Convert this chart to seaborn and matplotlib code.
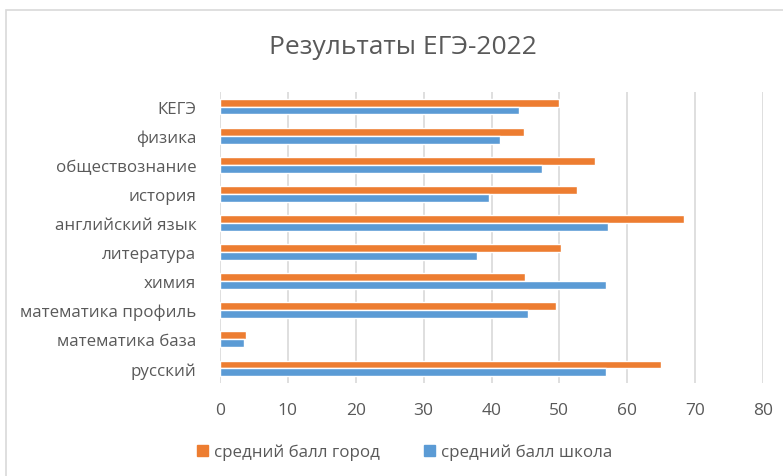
import matplotlib
matplotlib.use("Agg")
import matplotlib.pyplot as plt
import matplotlib.patches as mpatches
import pandas as pd
import seaborn as sns

# data
subjects = ["КЕГЭ", "физика", "обществознание", "история", "английский язык",
            "литература", "химия", "математика профиль", "математика база", "русский"]
city_scores = [50.0, 44.8, 55.2, 52.6, 68.4, 50.3, 45.0, 49.5, 3.9, 65.0]
school_scores = [44.0, 41.2, 47.4, 39.7, 57.2, 37.9, 56.9, 45.4, 3.6, 56.9]
series_names = ["средний балл город", "средний балл школа"]
colors = ["#ED7D31", "#5B9BD5"]

df = pd.concat([
    pd.DataFrame({"предмет": subjects, "балл": city_scores, "серия": series_names[0]}),
    pd.DataFrame({"предмет": subjects, "балл": school_scores, "серия": series_names[1]}),
])

sns.set_theme(style="white")
plt.rcParams["font.family"] = ["Open Sans", "DejaVu Sans"]
text_color = "#595959"

fig = plt.figure(figsize=(7.83, 4.77), dpi=100)
ax = fig.add_axes([220 / 783, 1 - 384 / 477, 543 / 783, 291 / 477])

sns.barplot(data=df, y="предмет", x="балл", hue="серия", order=subjects,
            hue_order=series_names, palette=colors, width=0.54,
            saturation=1, ax=ax, legend=False)

ax.set_xlim(0, 80)
ax.set_xticks(range(0, 81, 10))
ax.grid(axis="x", color="#d9d9d9", linewidth=1.2)
ax.set_axisbelow(True)
for s in ax.spines.values():
    s.set_visible(False)
ax.set_xlabel("")
ax.set_ylabel("")
ax.tick_params(axis="both", length=0, colors=text_color, labelsize=12.2)
ax.tick_params(axis="x", pad=14, labelsize=12.5)
ax.tick_params(axis="y", pad=17)

fig.text(403 / 783, 1 - 48 / 477, "Результаты ЕГЭ-2022", ha="center", va="center",
         fontsize=19, color=text_color)

handles = [mpatches.Patch(color=c, label=n) for c, n in zip(colors, series_names)]
fig.legend(handles=handles, loc="center", bbox_to_anchor=(405 / 783, 1 - 453 / 477),
           ncol=2, frameon=False, fontsize=12.2, handlelength=0.6, handleheight=0.6,
           handletextpad=0.4, columnspacing=2.6, labelcolor=text_color)

# chart frame
fig.patches.append(mpatches.Rectangle((6 / 783, -0.1), 1.0, 1 - 11 / 477 + 0.1,
                                      transform=fig.transFigure, fill=False,
                                      edgecolor="#d9d9d9", linewidth=1.2))

fig.savefig("out.png", dpi=100)
